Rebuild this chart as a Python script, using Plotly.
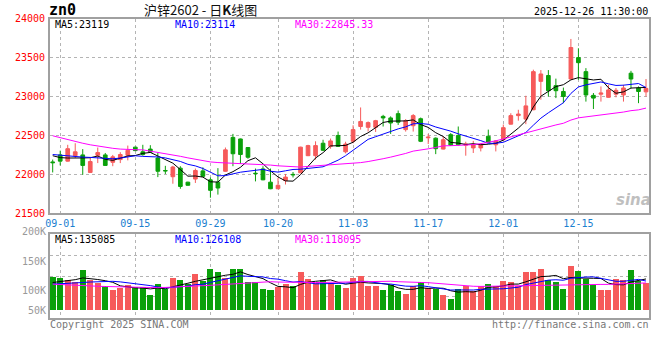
import plotly.graph_objects as go
import pandas as pd
import numpy as np

# ---------------- data ----------------
opens = [22160, 22250, 22170, 22240, 22250, 22025, 22245, 22250, 22155, 22190,
         22245, 22350, 22290, 22325, 22210, 22050, 21970, 22080, 21900, 21940,
         22045, 21930, 21900, 22040, 22475, 22455, 22345, 22015, 22070, 21900,
         21815, 21920, 22000, 22020, 22240, 22240, 22400, 22360, 22500, 22290,
         22425, 22615, 22605, 22605, 22745, 22725, 22780, 22575, 22625, 22715,
         22470, 22465, 22325, 22510, 22500, 22375, 22340, 22340, 22490, 22380,
         22445, 22645, 22755, 22710, 22830, 23195, 23270, 23140, 23065, 23225,
         23500, 23320, 23015, 23030, 22990, 23030, 23020, 23300, 23110, 23060]
highs = [22190, 22305, 22380, 22400, 22325, 22210, 22345, 22275, 22250, 22285,
         22370, 22355, 22380, 22375, 22275, 22110, 22110, 22105, 21905, 22075,
         22090, 21960, 22080, 22345, 22520, 22460, 22350, 22075, 22105, 22075,
         21955, 22005, 22030, 22355, 22380, 22425, 22445, 22460, 22550, 22420,
         22630, 22860, 22680, 22700, 22765, 22745, 22820, 22710, 22775, 22730,
         22520, 22475, 22490, 22530, 22615, 22420, 22430, 22400, 22575, 22440,
         22640, 22785, 22830, 23010, 23345, 23340, 23340, 23230, 23115, 23740,
         23620, 23365, 23045, 23130, 23150, 23110, 23150, 23330, 23130, 23225]
lows = [22025, 22115, 22165, 22210, 21995, 22020, 22145, 22110, 22105, 22145,
        22180, 22300, 22240, 22280, 21965, 22005, 21880, 21815, 21855, 21890,
        21970, 21700, 21740, 22035, 22105, 22135, 22200, 21910, 21925, 21810,
        21810, 21870, 21960, 22015, 22235, 22190, 22300, 22330, 22355, 22270,
        22400, 22575, 22550, 22545, 22615, 22520, 22635, 22550, 22550, 22415,
        22390, 22260, 22320, 22365, 22370, 22240, 22275, 22295, 22400, 22295,
        22440, 22640, 22690, 22645, 22825, 22960, 23000, 22980, 22915, 23220,
        23215, 22935, 22840, 22935, 22985, 22990, 22935, 23105, 22915, 23000]
closes = [22150, 22170, 22330, 22290, 22115, 22165, 22280, 22115, 22225, 22255,
          22310, 22305, 22255, 22285, 22040, 22045, 22095, 21845, 21860, 22050,
          21975, 21795, 21825, 22315, 22265, 22255, 22220, 22010, 21930, 21815,
          21860, 21965, 21995, 22350, 22370, 22370, 22310, 22430, 22360, 22390,
          22575, 22680, 22665, 22690, 22725, 22660, 22670, 22690, 22755, 22425,
          22478, 22330, 22445, 22375, 22380, 22390, 22380, 22380, 22410, 22430,
          22600, 22755, 22775, 22880, 23320, 23290, 23075, 23075, 23000, 23630,
          23435, 23020, 22980, 23045, 23085, 23080, 23110, 23225, 23065, 23105]
volumes = [140400, 140000, 127700, 119200, 170000, 130500, 116300, 102000, 85000, 95000,
           106000, 97900, 97900, 66800, 113600, 90900, 140000, 127700, 112000, 154500,
           123500, 177300, 161700, 137500, 174400, 174400, 120700, 120700, 92400, 85300,
           97900, 112000, 102000, 161700, 133300, 116300, 127700, 116300, 110000, 93500,
           137900, 147700, 102000, 102000, 88000, 109400, 83800, 71000, 102000, 122200,
           95300, 91000, 66800, 49800, 92300, 105200, 83800, 102000, 113600, 102000,
           126500, 122200, 102000, 161700, 161700, 177400, 130600, 119200, 92300, 187300,
           166000, 134900, 109400, 88000, 88000, 134900, 130600, 170200, 123400, 116600]

# moving-average values before a full window is available
ma5_head = [22240, 22215, 22210, 22215]
ma10_head = [22255, 22245, 22235, 22228, 22222, 22218, 22212, 22206, 22200]
ma30_head = [22496, 22470, 22445, 22420, 22400, 22380, 22362, 22347, 22335, 22325,
             22318, 22317, 22315, 22300, 22285, 22270, 22253, 22232, 22212, 22192,
             22175, 22160, 22152, 22148, 22146, 22140, 22134, 22128, 22124]
vma5_head = [120000, 124000, 128000, 132000]
vma10_head = [113000, 114000, 116000, 118000, 120000, 122000, 124000, 125000, 125000]
vma30_head = [113000, 111000, 109000, 108000, 106000, 105000, 104000, 103000, 102000, 101000,
              100000, 99000, 99000, 98000, 98000, 99000, 100000, 101000, 102000, 104000,
              106000, 108000, 110000, 112000, 114000, 116000, 117000, 119000, 121000]

holidays = ["2025-10-01", "2025-10-02", "2025-10-03", "2025-10-06", "2025-10-07", "2025-10-08"]
tick_labels = ["09-01", "09-15", "09-29", "10-20", "11-03", "11-17", "12-01", "12-15"]
price_ticks = [21500, 22000, 22500, 23000, 23500, 24000]
vol_labels = ["200K", "150K", "100K", "50K"]

header_price = ["MA5:23119", "MA10:23114", "MA30:22845.33"]
header_vol = ["MA5:135085", "MA10:126108", "MA30:118095"]

# ---------------- derived ----------------
days = [d for d in pd.bdate_range("2025-08-29", "2025-12-26") if d.strftime("%Y-%m-%d") not in holidays]
day_labels = [d.strftime("%m-%d") for d in days]
idx = list(range(len(days)))
tick_idx = [day_labels.index(t) for t in tick_labels]


def moving_avg(vals, n, head):
    out = []
    for i in range(len(vals)):
        if i < n - 1:
            out.append(head[i])
        else:
            out.append(float(np.mean(vals[i - n + 1:i + 1])))
    return out


ma5 = moving_avg(closes, 5, ma5_head)
ma10 = moving_avg(closes, 10, ma10_head)
ma30 = moving_avg(closes, 30, ma30_head)
vma5 = moving_avg(volumes, 5, vma5_head)
vma10 = moving_avg(volumes, 10, vma10_head)
vma30 = moving_avg(volumes, 30, vma30_head)

RED = "#f65a5a"
GREEN = "#0aa00a"
vol_colors = [RED if c >= o else GREEN for o, c in zip(opens, closes)]

W, H = 660, 360
MONO = "DejaVu Sans Mono"


def px(x):
    return x / W


def py(y):
    return 1 - y / H


fig = go.Figure()

fig.add_trace(go.Candlestick(
    x=idx, open=opens, high=highs, low=lows, close=closes,
    increasing=dict(line=dict(color=RED, width=1), fillcolor=RED),
    decreasing=dict(line=dict(color=GREEN, width=1), fillcolor=GREEN),
    whiskerwidth=0, xaxis="x", yaxis="y", hoverinfo="skip"))

for vals, col in [(ma5, "#000000"), (ma10, "#0000ff"), (ma30, "#ff00ff")]:
    fig.add_trace(go.Scatter(x=idx, y=vals, mode="lines", line=dict(color=col, width=1),
                             xaxis="x", yaxis="y", hoverinfo="skip"))

fig.add_trace(go.Bar(x=idx, y=volumes, marker=dict(color=vol_colors, line=dict(width=0)),
                     width=0.8, xaxis="x2", yaxis="y2", hoverinfo="skip"))

for vals, col in [(vma5, "#000000"), (vma10, "#0000ff"), (vma30, "#ff00ff")]:
    fig.add_trace(go.Scatter(x=idx, y=vals, mode="lines", line=dict(color=col, width=1),
                             xaxis="x2", yaxis="y2", hoverinfo="skip"))

x_dom = [px(50), px(649)]
xr = [-0.36, 79.4]
p_dom = [py(213.3), py(18.7)]
v_dom = [py(317.7), py(234.3)]
v_range = [-29800, 325100]

GRID = "#b4b4b4"
BORDER = "#a0a0a0"

common = dict(showgrid=True, gridcolor=GRID, griddash="dot", gridwidth=1,
              showline=True, linecolor=BORDER, linewidth=2, mirror=True,
              ticks="", zeroline=False, automargin=False, fixedrange=True)

fig.update_layout(
    template="none",
    width=W, height=H, margin=dict(l=0, r=0, t=0, b=0, pad=0),
    paper_bgcolor="white", plot_bgcolor="white", showlegend=False,
    bargap=0,
    xaxis=dict(domain=x_dom, range=xr, anchor="y", rangeslider=dict(visible=False),
               tickmode="array", tickvals=tick_idx, ticktext=tick_labels,
               tickfont=dict(family=MONO, size=10, color="#1a80d0"), **common),
    yaxis=dict(domain=p_dom, range=[21500, 24000], anchor="x",
               tickmode="array", tickvals=price_ticks, ticktext=[str(t) for t in price_ticks],
               tickfont=dict(family=MONO, size=10, color="#ff0000"),
               ticklabelstandoff=1, **common),
    xaxis2=dict(domain=x_dom, range=xr, anchor="y2", tickmode="array", tickvals=tick_idx,
                showticklabels=False, **common),
    yaxis2=dict(domain=v_dom, range=v_range, anchor="x2", tickmode="linear",
                tick0=v_range[0], dtick=(v_range[1] - v_range[0]) / 4, showticklabels=False,
                **common),
)

anns = []


def ann(text, x, y, color="#000000", size=10, xanchor="left", family=MONO):
    anns.append(dict(text=text, x=px(x), y=py(y), xref="paper", yref="paper",
                     xanchor=xanchor, yanchor="middle", showarrow=False,
                     font=dict(family=family, size=size, color=color), borderpad=0))


ann("<b>zn0</b>", 48, 10, "#000000", 15)
ann("沪锌2602 - 日<b>K</b>线图", 200, 9, "#111111", 13, "center", "Noto Sans CJK SC")
ann("2025-12-26 11:30:00", 649, 11, "#000000", 10, "right")

for t, x, c in zip(header_price, [54, 174, 294], ["#000000", "#0000ff", "#ff00ff"]):
    ann(t, x, 25, c, 10)
for t, x, c in zip(header_vol, [54, 174, 294], ["#000000", "#0000ff", "#ff00ff"]):
    ann(t, x, 239, c, 10)

for t, y in zip(vol_labels, [231, 261, 290.5, 310]):
    ann(t, 47, y, "#999999", 10, "right")

ann("Copyright 2025 SINA.COM", 49, 324, "#777777", 10)
ann("http://finance.sina.com.cn", 650, 324, "#777777", 10, "right")
ann("<i><b>sina</b></i>", 633, 200, "rgba(170,170,170,0.75)", 15, "center", "DejaVu Sans")

fig.update_layout(annotations=anns)
fig.write_html("out.html", config={"displayModeBar": False},
               post_script="document.body.style.margin='0px';")
